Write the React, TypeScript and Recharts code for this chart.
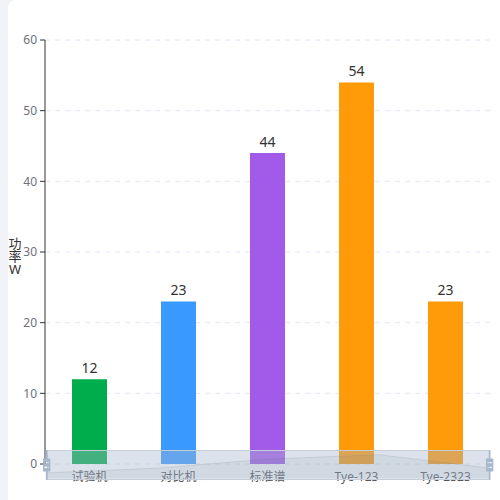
import React from 'react';
import { BarChart, Bar, XAxis, YAxis, CartesianGrid, Cell, LabelList, AreaChart, Area } from 'recharts';

const categories = ['试验机', '对比机', '标准谱', 'Tye-123', 'Tye-2323'];
const values = [12, 23, 44, 54, 23];
const colors = ['#00ad4c', '#3a99ff', '#a25ae8', '#ff9a08', '#ff9a08'];
const yTicks = [0, 10, 20, 30, 40, 50, 60];
const yAxisName = '功率W';

const data = categories.map((name, i) => ({ name, value: values[i] }));

const FONT = "'Noto Sans', 'Noto Sans CJK SC', sans-serif";

const HANDLE_PATH =
  'M8.2,13.6V3.9H6.3v9.7H3.1v14.9h3.3v9.7h1.8v-9.7h3.3V13.6H8.2z M9.7,24.4H4.8v-1.4h4.9V24.4z M9.7,19.1H4.8v-1.4h4.9V19.1z';

const SL_X = 47;
const SL_Y = 450;
const SL_W = 443;
const SL_H = 30;

function Handle({ cx }: { cx: number }) {
  const w = (8.3 / 34.3) * SL_H;
  return (
    <svg
      width={w}
      height={SL_H}
      viewBox="3.1 3.9 8.3 34.3"
      preserveAspectRatio="none"
      style={{ position: 'absolute', left: cx - w / 2, top: SL_Y }}
    >
      <path d={HANDLE_PATH} fill="#a7b7cc" fillRule="evenodd" />
    </svg>
  );
}

export default function App() {
  return (
    <div style={{ position: 'fixed', left: 0, top: 0, width: 500, height: 500, background: '#f2f3f8', fontFamily: FONT }}>
      <div
        style={{
          position: 'absolute',
          left: 8,
          top: 0,
          width: 492,
          height: 500,
          background: '#fff',
          borderTopLeftRadius: 8,
          overflow: 'hidden',
        }}
      >
        <div
          style={{
            position: 'absolute',
            left: 0,
            top: 237,
            width: 14,
            fontSize: 13,
            lineHeight: '13px',
            color: '#333',
            textAlign: 'center',
            whiteSpace: 'pre',
          }}
        >
          {yAxisName.split('').join('\n')}
        </div>
      </div>
      <div style={{ position: 'absolute', left: 0, top: 0 }}>
        <BarChart width={500} height={500} data={data} margin={{ top: 40, right: 10, bottom: 6, left: 0 }}>
          <CartesianGrid vertical={false} stroke="#e0e6f1" strokeDasharray="5 5" />
          <XAxis
            dataKey="name"
            height={30}
            axisLine={false}
            tickLine={false}
            tickSize={5}
            tickMargin={3}
            interval={0}
            tick={{ fill: '#555', fontSize: 12, fontFamily: FONT }}
          />
          <YAxis
            width={45}
            domain={[0, 60]}
            ticks={yTicks}
            axisLine={{ stroke: '#333' }}
            tickLine={{ stroke: '#333' }}
            tickSize={5}
            tickMargin={3}
            tick={{ fill: '#6e7079', fontSize: 12, fontFamily: FONT }}
          />
          <Bar dataKey="value" barSize={35} isAnimationActive={false}>
            {data.map((d, i) => (
              <Cell key={d.name} fill={colors[i]} />
            ))}
            <LabelList dataKey="value" position="top" offset={6} fill="#333" fontSize={14} fontFamily={FONT} />
          </Bar>
        </BarChart>
      </div>
      <div
        style={{
          position: 'absolute',
          left: SL_X,
          top: SL_Y,
          width: SL_W,
          height: SL_H,
          border: '1px solid #ddd',
          boxSizing: 'border-box',
        }}
      />
      <div style={{ position: 'absolute', left: SL_X, top: SL_Y }}>
        <AreaChart width={SL_W} height={SL_H} data={data} margin={{ top: 0, right: 0, bottom: 2, left: 0 }}>
          <XAxis dataKey="name" hide />
          <YAxis hide domain={[0, 65]} />
          <Area
            type="linear"
            dataKey="value"
            stroke="#2f4554"
            strokeOpacity={0.3}
            strokeWidth={0.5}
            fill="#2f4554"
            fillOpacity={0.09}
            isAnimationActive={false}
            dot={false}
            activeDot={false}
          />
        </AreaChart>
      </div>
      <div
        style={{
          position: 'absolute',
          left: SL_X,
          top: SL_Y,
          width: SL_W,
          height: SL_H,
          background: 'rgba(167,183,204,0.4)',
        }}
      />
      <Handle cx={SL_X} />
      <Handle cx={SL_X + SL_W} />
    </div>
  );
}
